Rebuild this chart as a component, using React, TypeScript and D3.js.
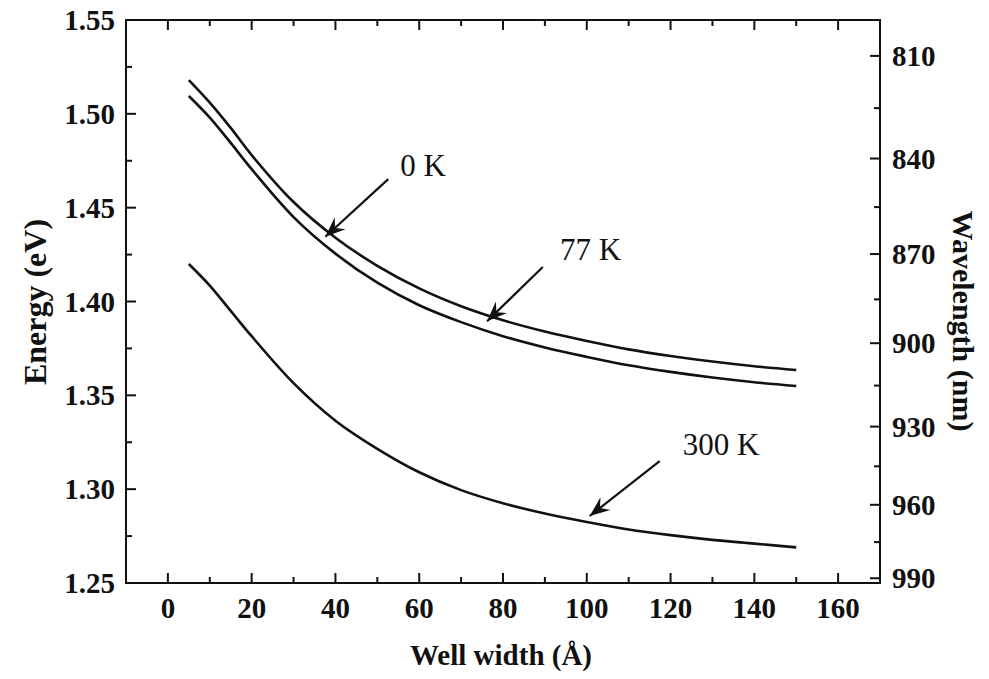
import React from "react";
import * as d3 from "d3";

const widths = [5, 10, 15, 20, 30, 40, 50, 60, 70, 80, 90, 100, 110, 120, 130, 140, 150];
const energy0K = [1.518, 1.506, 1.4925, 1.478, 1.453, 1.434, 1.419, 1.407, 1.3975, 1.39, 1.384, 1.379, 1.3745, 1.371, 1.368, 1.3655, 1.3635];
const energy77K = [1.5095, 1.498, 1.4845, 1.4705, 1.445, 1.4255, 1.41, 1.398, 1.389, 1.3815, 1.3755, 1.3705, 1.366, 1.3625, 1.3595, 1.357, 1.355];
const energy300K = [1.42, 1.4085, 1.395, 1.3815, 1.3565, 1.3365, 1.3215, 1.309, 1.2995, 1.2925, 1.287, 1.2825, 1.2785, 1.2755, 1.273, 1.271, 1.269];

const xMajorTicks = [0, 20, 40, 60, 80, 100, 120, 140, 160];
const xMinorTicks = [-10, 10, 30, 50, 70, 90, 110, 130, 150, 170];
const yMajorTicks = [1.25, 1.3, 1.35, 1.4, 1.45, 1.5, 1.55];
const yMinorTicks = [1.275, 1.325, 1.375, 1.425, 1.475, 1.525];
const wlMajorTicks = [810, 840, 870, 900, 930, 960, 990];
const wlMinorTicks = [825, 855, 885, 915, 945, 975];

// annotations: label position (x, E) ; arrow start -> tip in data units
const annLabels = ["0 K", "77 K", "300 K"];
const annLabelPos = [[55.5, 1.467], [93.6, 1.422], [122.9, 1.318]];
const annArrowFrom = [[52.6, 1.4652], [89.5, 1.4184], [117.4, 1.315]];
const annArrowTo = [[37.6, 1.4345], [76.2, 1.3895], [100.7, 1.2857]];

const HC = 1240;

export default function App() {
  const W = 989, H = 679;
  const x = d3.scaleLinear().domain([-10, 170]).range([126, 880]);
  const y = d3.scaleLinear().domain([1.25, 1.55]).range([583, 20]);
  const [x0, x1] = x.range();
  const [yb, yt] = y.range();
  const line = d3
    .line<number>()
    .x((_, i) => x(widths[i]))
    .y((d) => y(d))
    .curve(d3.curveCatmullRom.alpha(0.5));

  const serif = "'Liberation Serif', 'Times New Roman', serif";
  const stroke = "#111";
  const majorLen = 10, minorLen = 6;

  const arrowHead = (fx: number, fy: number, tx: number, ty: number) => {
    const ang = Math.atan2(ty - fy, tx - fx);
    const L = 20, Wd = 8, N = 13;
    const pts = [
      [0, 0],
      [-L, -Wd],
      [-N, 0],
      [-L, Wd],
    ].map(([a, b]) => [tx + a * Math.cos(ang) - b * Math.sin(ang), ty + a * Math.sin(ang) + b * Math.cos(ang)]);
    return "M" + pts.map((p) => p.join(",")).join("L") + "Z";
  };

  return (
    <svg width={W} height={H} viewBox={`0 0 ${W} ${H}`} style={{ display: "block", background: "#fff" }}>
      <style>{`body{margin:0}`}</style>
      <rect x={0} y={0} width={W} height={H} fill="#fff" />
      {/* frame */}
      <rect x={x0} y={yt} width={x1 - x0} height={yb - yt} fill="none" stroke={stroke} strokeWidth={2} />
      {/* bottom & top ticks */}
      {xMajorTicks.map((t) => (
        <g key={"xM" + t}>
          <line x1={x(t)} x2={x(t)} y1={yb} y2={yb - majorLen} stroke={stroke} strokeWidth={2} />
          <line x1={x(t)} x2={x(t)} y1={yt} y2={yt + majorLen} stroke={stroke} strokeWidth={2} />
          <text x={x(t)} y={618} textAnchor="middle" fontFamily={serif} fontWeight="bold" fontSize={29} fill={stroke}>
            {t}
          </text>
        </g>
      ))}
      {xMinorTicks.map((t) => (
        <g key={"xm" + t}>
          <line x1={x(t)} x2={x(t)} y1={yb} y2={yb - minorLen} stroke={stroke} strokeWidth={2} />
          <line x1={x(t)} x2={x(t)} y1={yt} y2={yt + minorLen} stroke={stroke} strokeWidth={2} />
        </g>
      ))}
      {/* left ticks */}
      {yMajorTicks.map((t) => (
        <g key={"yM" + t}>
          <line x1={x0} x2={x0 + majorLen} y1={y(t)} y2={y(t)} stroke={stroke} strokeWidth={2} />
          <text x={115} y={y(t)} dy="0.35em" textAnchor="end" fontFamily={serif} fontWeight="bold" fontSize={29} fill={stroke}>
            {t.toFixed(2)}
          </text>
        </g>
      ))}
      {yMinorTicks.map((t) => (
        <line key={"ym" + t} x1={x0} x2={x0 + minorLen} y1={y(t)} y2={y(t)} stroke={stroke} strokeWidth={2} />
      ))}
      {/* right wavelength ticks */}
      {wlMajorTicks.map((t) => (
        <g key={"wM" + t}>
          <line x1={x1} x2={x1 - majorLen} y1={y(HC / t)} y2={y(HC / t)} stroke={stroke} strokeWidth={2} />
          <text x={892} y={y(HC / t)} dy="0.35em" textAnchor="start" fontFamily={serif} fontWeight="bold" fontSize={29} fill={stroke}>
            {t}
          </text>
        </g>
      ))}
      {wlMinorTicks.map((t) => (
        <line key={"wm" + t} x1={x1} x2={x1 - minorLen} y1={y(HC / t)} y2={y(HC / t)} stroke={stroke} strokeWidth={2} />
      ))}
      {/* axis titles */}
      <text x={501} y={665} textAnchor="middle" fontFamily={serif} fontWeight="bold" fontSize={29} fill={stroke}>
        Well width (Å)
      </text>
      <text
        transform={`translate(46,302) rotate(-90)`}
        textAnchor="middle"
        fontFamily={serif}
        fontWeight="bold"
        fontSize={32}
        fill={stroke}
      >
        Energy (eV)
      </text>
      <text
        transform={`translate(953,321) rotate(90)`}
        textAnchor="middle"
        fontFamily={serif}
        fontWeight="bold"
        fontSize={30}
        fill={stroke}
      >
        Wavelength (nm)
      </text>
      {/* curves */}
      {[energy0K, energy77K, energy300K].map((s, i) => (
        <path key={"c" + i} d={line(s) || ""} fill="none" stroke={stroke} strokeWidth={2.6} />
      ))}
      {/* annotations */}
      {annLabels.map((lab, i) => {
        const fx = x(annArrowFrom[i][0]), fy = y(annArrowFrom[i][1]);
        const tx = x(annArrowTo[i][0]), ty = y(annArrowTo[i][1]);
        return (
          <g key={"a" + i}>
            <line x1={fx} y1={fy} x2={tx} y2={ty} stroke={stroke} strokeWidth={2.2} />
            <path d={arrowHead(fx, fy, tx, ty)} fill={stroke} />
            <text x={x(annLabelPos[i][0])} y={y(annLabelPos[i][1])} fontFamily={serif} fontSize={31} fill={stroke}>
              {lab}
            </text>
          </g>
        );
      })}
    </svg>
  );
}
